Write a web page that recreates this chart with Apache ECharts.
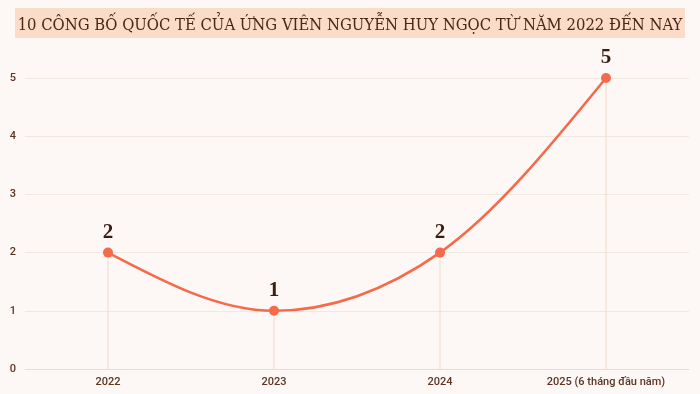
<!DOCTYPE html>
<html><head><meta charset="utf-8">
<script src="https://cdn.jsdelivr.net/npm/echarts@6/dist/echarts.min.js"></script>
<style>html,body{margin:0;padding:0;background:#fdf8f5;}#c{width:700px;height:394px;}</style>
</head><body><div id="c"></div>
<script>
const title = "10 CÔNG BỐ QUỐC TẾ CỦA ỨNG VIÊN NGUYỄN HUY NGỌC TỪ NĂM 2022 ĐẾN NAY";
const categories = ["2022", "2023", "2024", "2025 (6 tháng đầu năm)"];
const values = [2, 1, 2, 5];
const yTicks = [0, 1, 2, 3, 4, 5];

// monotone-x cubic path through the points, computed in pixel space via the axes
function monotonePath(pts) {
  const n = pts.length;
  const h = [], s = [];
  for (let i = 0; i < n - 1; i++) {
    h.push(pts[i + 1][0] - pts[i][0]);
    s.push((pts[i + 1][1] - pts[i][1]) / h[i]);
  }
  const sign = v => (v > 0 ? 1 : v < 0 ? -1 : 0);
  const t = new Array(n);
  for (let i = 1; i < n - 1; i++) {
    const p = (s[i - 1] * h[i] + s[i] * h[i - 1]) / (h[i - 1] + h[i]);
    t[i] = (sign(s[i - 1]) + sign(s[i])) * Math.min(Math.abs(s[i - 1]), Math.abs(s[i]), 0.5 * Math.abs(p)) || 0;
  }
  t[0] = (3 * s[0] - t[1]) / 2;
  t[n - 1] = (3 * s[n - 2] - t[n - 2]) / 2;
  let d = 'M' + pts[0][0] + ',' + pts[0][1];
  for (let i = 0; i < n - 1; i++) {
    const dx = h[i] / 3;
    d += 'C' + (pts[i][0] + dx) + ',' + (pts[i][1] + dx * t[i]) + ',' +
      (pts[i + 1][0] - dx) + ',' + (pts[i + 1][1] - dx * t[i + 1]) + ',' +
      pts[i + 1][0] + ',' + pts[i + 1][1];
  }
  return d;
}

const chart = echarts.init(document.getElementById('c'), null, {renderer: 'canvas'});
chart.setOption({
  backgroundColor: '#fdf8f5',
  animation: false,
  graphic: [{
    type: 'rect', left: 15, top: 8,
    shape: {width: 670, height: 30},
    style: {fill: '#fbdcc8'}
  }],
  title: {
    text: title, left: 'center', top: 12,
    textStyle: {fontFamily: 'DejaVu Serif Condensed', fontWeight: 'normal', fontSize: 16.5, color: '#4a2616'}
  },
  grid: {left: 25, right: 11, top: 78, bottom: 25},
  xAxis: {
    type: 'category', data: categories, boundaryGap: true,
    axisLine: {lineStyle: {color: '#e6dcd5', width: 1}},
    axisTick: {show: false},
    axisLabel: {color: '#5b3423', fontFamily: 'Roboto', fontWeight: 500, fontSize: 11, margin: 8}
  },
  yAxis: {
    type: 'value', min: yTicks[0], max: yTicks[yTicks.length - 1], interval: 1,
    axisLine: {show: false}, axisTick: {show: false},
    axisLabel: {color: '#5b3423', fontFamily: 'Roboto', fontWeight: 500, fontSize: 11, margin: 9},
    splitLine: {lineStyle: {color: '#f1e8e2', width: 1}}
  },
  series: [{
    type: 'bar', data: values, barWidth: 1, silent: true,
    itemStyle: {color: '#f9d8c6'}, z: 1
  }, {
    type: 'custom', silent: true, z: 2,
    data: values.map((v, i) => [i, v]),
    encode: {x: 0, y: 1},
    renderItem: function (params, api) {
      if (params.dataIndex !== 0) return null;
      const pts = values.map((v, i) => api.coord([i, v]));
      return {
        type: 'path',
        shape: {pathData: monotonePath(pts)},
        style: {fill: 'none', stroke: '#f46a4b', lineWidth: 2.6}
      };
    }
  }, {
    type: 'line', data: values,
    symbol: 'circle', symbolSize: 10,
    lineStyle: {width: 0, opacity: 0},
    itemStyle: {color: '#f46a4b'},
    label: {show: true, position: 'top', distance: 5,
      fontFamily: 'Liberation Serif', fontWeight: 'bold', fontSize: 21, color: '#3a1d10'},
    z: 3
  }]
});
</script></body></html>
